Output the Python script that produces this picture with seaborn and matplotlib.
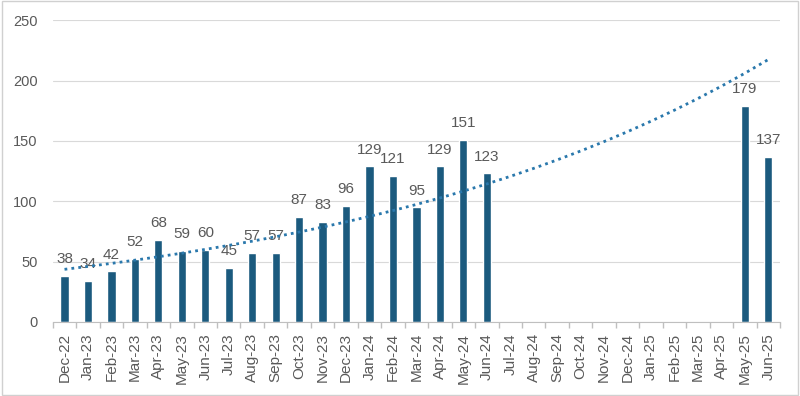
import matplotlib
matplotlib.use("Agg")
import matplotlib.pyplot as plt
import seaborn as sns
import pandas as pd
import numpy as np

# Monthly counts (blank months have no data)
months = ['Dec-22', 'Jan-23', 'Feb-23', 'Mar-23', 'Apr-23', 'May-23', 'Jun-23', 'Jul-23',
          'Aug-23', 'Sep-23', 'Oct-23', 'Nov-23', 'Dec-23', 'Jan-24', 'Feb-24', 'Mar-24',
          'Apr-24', 'May-24', 'Jun-24', 'Jul-24', 'Aug-24', 'Sep-24', 'Oct-24', 'Nov-24',
          'Dec-24', 'Jan-25', 'Feb-25', 'Mar-25', 'Apr-25', 'May-25', 'Jun-25']
counts = [38, 34, 42, 52, 68, 59, 60, 45, 57, 57, 87, 83, 96, 129, 121, 95,
          129, 151, 123, np.nan, np.nan, np.nan, np.nan, np.nan, np.nan, np.nan,
          np.nan, np.nan, np.nan, 179, 137]

df = pd.DataFrame({'Month': months, 'Count': counts})

sns.set_theme(style="white")
plt.rcParams['font.family'] = ['Liberation Sans', 'DejaVu Sans']

fig = plt.figure(figsize=(8, 3.96), dpi=100)
ax = fig.add_axes([0.066, 0.187, 0.909, 0.762])

bar_color = '#1B5A7E'
text_color = '#595959'
sns.barplot(x='Month', y='Count', data=df.dropna(), order=months, color=bar_color,
            width=0.35, saturation=1, ax=ax)

for container in ax.containers:
    ax.bar_label(container, fmt='%d', padding=7, fontsize=11, color=text_color)

# Exponential trendline fitted on the available months
pos = np.arange(len(months))
valid = ~np.isnan(df['Count'].values)
b, a = np.polyfit(pos[valid], np.log(df['Count'].values[valid]), 1)
trend = np.exp(a + b * pos)
ax.plot(pos, trend, color='#2A78AC', linestyle=(0, (1, 1.5)), linewidth=2, zorder=3)

ax.set_ylim(0, 250)
ax.set_xlim(-0.5, len(months) - 0.5)
ax.set_yticks([0, 50, 100, 150, 200, 250])
ax.yaxis.grid(True, color='#D9D9D9', linewidth=0.8)
ax.set_axisbelow(True)
ax.set_xlabel('')
ax.set_ylabel('')

ax.tick_params(axis='x', rotation=90, labelsize=11, labelcolor=text_color, length=0, pad=8)
ax.tick_params(axis='y', labelsize=10.5, labelcolor=text_color, length=0, pad=11)
ax.set_xticks(np.arange(-0.5, len(months)), minor=True)
ax.tick_params(axis='x', which='minor', length=4, color='#BFBFBF', bottom=True)

for side in ['top', 'right', 'left']:
    ax.spines[side].set_visible(False)
ax.spines['bottom'].set_color('#BFBFBF')
ax.spines['bottom'].set_linewidth(0.8)

fig.patches.append(plt.Rectangle((0.002, 0.003), 0.996, 0.994, transform=fig.transFigure,
                                 fill=False, edgecolor='#D0D0D0', linewidth=1))

fig.savefig('out.png', dpi=100)
